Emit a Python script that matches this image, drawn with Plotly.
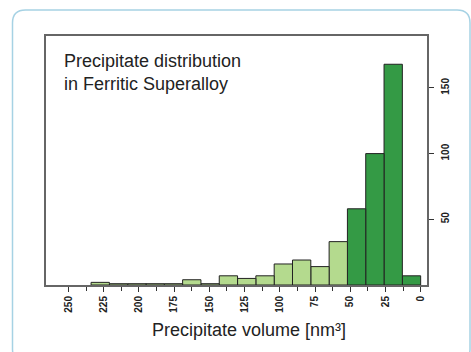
import plotly.graph_objects as go

# ---- data ----
bin_width = 13
bin_start = [0, 13, 26, 39, 52, 65, 78, 91, 104, 117, 130, 143, 156, 169, 182, 195, 208, 221]
counts    = [7, 168, 100, 58, 33, 14, 19, 16, 7, 5, 7, 1, 4, 1, 1, 1, 1, 2]
dark_limit = 52
x_ticks = [250, 225, 200, 175, 150, 125, 100, 75, 50, 25, 0]
y_ticks = [50, 100, 150]
note_text = "Precipitate distribution<br>in Ferritic Superalloy"
x_title = "Precipitate volume [nm³]"

DARK = "#349a45"
LIGHT = "#b4da8e"
W, H = 471, 352
ML, MR, MT, MB = 46, 44, 36, 67
PW, PH = W - ML - MR, H - MT - MB

def px2x(p):
    return (p - ML) / PW

def px2y(p):
    return (H - MB - p) / PH

centers = [s + bin_width / 2 for s in bin_start]
colors = [DARK if s < dark_limit else LIGHT for s in bin_start]

fig = go.Figure()
fig.add_trace(go.Bar(
    x=centers, y=counts, width=bin_width,
    marker=dict(color=colors, line=dict(color="#222222", width=1)),
    hoverinfo="skip",
))

FONT = "Liberation Sans, Arial, sans-serif"
TICKFONT = dict(size=10, color="#222222", family=FONT, weight="bold")
fig.update_layout(
    width=W, height=H, autosize=False,
    margin=dict(l=ML, r=MR, t=MT, b=MB, pad=0),
    paper_bgcolor="white", plot_bgcolor="white",
    showlegend=False,
    bargap=0,
    font=dict(family=FONT, color="#222222"),
    xaxis=dict(
        range=[266, -4.5], showgrid=False, zeroline=False, automargin=False,
        showline=True, mirror=True, linecolor="#666666", linewidth=2,
        tickmode="array", tickvals=x_ticks, ticktext=[str(v) for v in x_ticks],
        ticks="outside", ticklen=5, tickcolor="#333333", tickwidth=1,
        tickangle=-90, tickfont=TICKFONT,
        minor=dict(tickmode="array", tickvals=[v + 12.5 for v in x_ticks[1:]],
                   ticks="outside", ticklen=4, tickcolor="#333333", tickwidth=1),
    ),
    yaxis=dict(
        range=[0, 189.5], side="right", showgrid=False, zeroline=False, automargin=False,
        showline=True, mirror=True, linecolor="#666666", linewidth=2,
        tickmode="array", tickvals=y_ticks, ticktext=[str(v) for v in y_ticks],
        ticks="outside", ticklen=5, tickcolor="#333333", tickwidth=1,
        tickangle=-90, tickfont=TICKFONT, ticklabelstandoff=3,
    ),
)

fig.add_annotation(
    text=note_text, xref="paper", yref="paper",
    x=px2x(62), y=px2y(49), xanchor="left", yanchor="top", align="left",
    showarrow=False, font=dict(size=18, color="#222222", family=FONT),
)
fig.add_annotation(
    text=x_title, xref="paper", yref="paper",
    x=px2x(249), y=px2y(329.5), xanchor="center", yanchor="middle",
    showarrow=False, font=dict(size=18, color="#222222", family=FONT),
)

# rounded outer border
L, T, R, B, r = 12.5, 10, 470, 362, 13
path = (f"M {px2x(L)},{px2y(T + r)} Q {px2x(L)},{px2y(T)} {px2x(L + r)},{px2y(T)} "
        f"L {px2x(R - r)},{px2y(T)} Q {px2x(R)},{px2y(T)} {px2x(R)},{px2y(T + r)} "
        f"L {px2x(R)},{px2y(B - r)} Q {px2x(R)},{px2y(B)} {px2x(R - r)},{px2y(B)} "
        f"L {px2x(L + r)},{px2y(B)} Q {px2x(L)},{px2y(B)} {px2x(L)},{px2y(B - r)} Z")
fig.add_shape(type="path", path=path, xref="paper", yref="paper",
              line=dict(color="#a6d2e4", width=1.5), layer="below")

fig.write_html("out.html", config={"displayModeBar": False, "staticPlot": True})
with open("out.html", encoding="utf-8") as f:
    html = f.read()
html = html.replace("<head>", "<head><style>html,body{margin:0;padding:0;overflow:hidden;}</style>", 1)
with open("out.html", "w", encoding="utf-8") as f:
    f.write(html)
